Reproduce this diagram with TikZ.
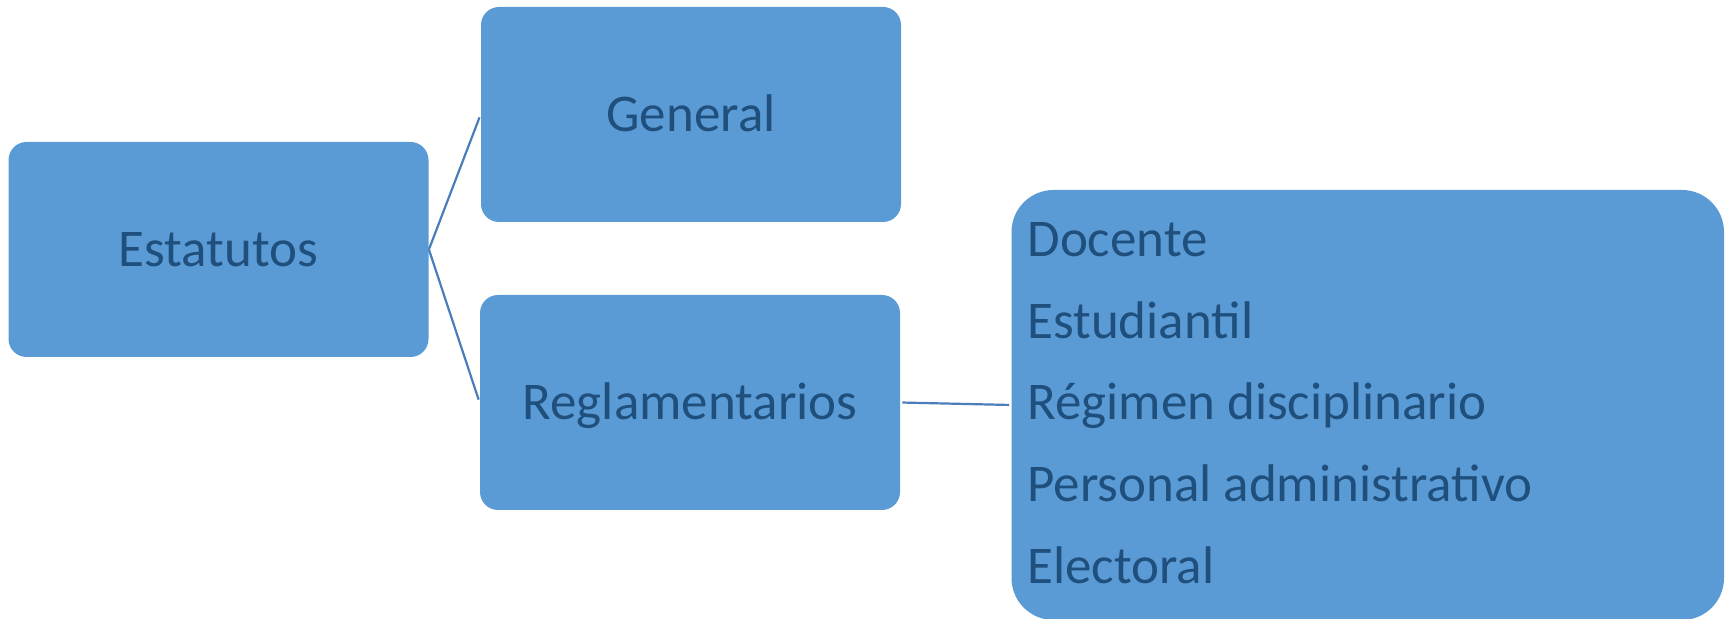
\documentclass[tikz,border=0pt]{standalone}
\usepackage{fontspec}
\setmainfont{Carlito}
\definecolor{boxfill}{HTML}{5B9BD5}
\definecolor{boxtext}{HTML}{1F4F7C}
\definecolor{linkc}{HTML}{4A7EBB}
\begin{document}
\begin{tikzpicture}[x=0.5pt,y=-0.5pt,
  box/.style={fill=boxfill, rounded corners=9pt, minimum width=210pt, minimum height=107.5pt,
    inner sep=0pt, text=boxtext, font=\fontsize{26.5pt}{31pt}\selectfont,
    text height=16.8pt, text depth=0pt},
  bigbox/.style={fill=boxfill, rounded corners=21pt, minimum width=356.25pt, minimum height=215pt, inner sep=0pt},
  item/.style={anchor=base west, inner sep=0pt, text=boxtext, font=\fontsize{26.5pt}{31pt}\selectfont},
  link/.style={draw=linkc, line width=1.1pt}]
\useasboundingbox (0,0) rectangle (1729,619);
\node[box] (est) at (218.5,249.5) {Estatutos};
\node[box] (gen) at (691,114.5) {General};
\node[box] (reg) at (690,402.5) {Reglamentarios};
\node[bigbox] (big) at (1367.75,405) {};
\node[item] (i1) at (1027,257) {Docente};
\node[item] (i2) at (1027,338.5) {Estudiantil};
\node[item] (i3) at (1027,420) {Régimen disciplinario};
\node[item] (i4) at (1027,501.5) {Personal administrativo};
\node[item] (i5) at (1027,583) {Electoral};
\draw[link, shorten >=1.5pt] (est.east) -- (gen.west);
\draw[link, shorten >=1.5pt] (est.east) -- (reg.west);
\draw[link, shorten <=1pt, shorten >=1pt] (reg.east) -- (big.west);
\end{tikzpicture}
\end{document}
